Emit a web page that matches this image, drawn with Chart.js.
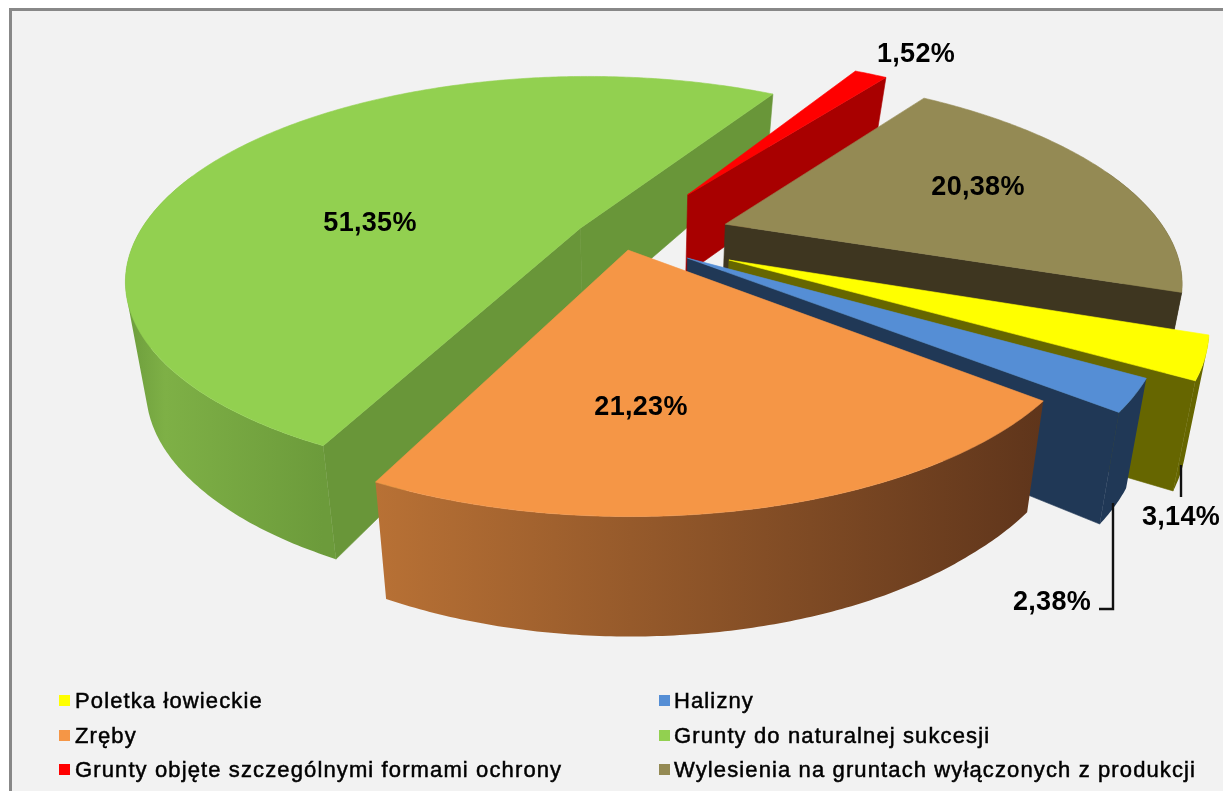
<!DOCTYPE html>
<html><head><meta charset="utf-8">
<script src="https://cdn.jsdelivr.net/npm/chart.js@4"></script>
<style>
html,body{margin:0;padding:0;background:#fff;width:1223px;height:791px;overflow:hidden}
#frame{position:absolute;left:9px;top:8px;width:1300px;height:900px;background:#f2f2f2;border:3px solid #888;box-sizing:border-box}
canvas{position:absolute;left:0;top:0}
</style></head><body><div id="frame"></div>
<canvas id="c" width="1223" height="791"></canvas>
<script>
const categories=['Poletka łowieckie','Halizny','Zręby','Grunty do naturalnej sukcesji','Grunty objęte szczególnymi formami ochrony','Wylesienia na gruntach wyłączonych z produkcji'];
const shares=[3.14,2.38,21.23,51.35,1.52,20.38];
const topColors=['#ffff00','#558ed5','#f59646','#92d050','#ff0000','#948a54'];
const wallColors=['#666600','#203856','#5f351b','#699639','#a80000','#3e3620'];
const rimStops=[[['0','#666600'],['1','#666600']],[['0','#203856'],['1','#203856']],
 [['0','#b87135'],['1','#5f351b']],[['0','#6c9c3c'],['.2','#7eb046'],['1','#6c9b3b']],
 [['0','#a80000'],['1','#a80000']],[['0','#3e3620'],['1','#3e3620']]];
const explode=[115,78,28,48,126,110];
const drawOrder=[3,4,5,0,1,2];
const PERSP=0.247, TILT=0.436, VX=640, VSHRINK=0.96;
const depthAtY=[[193,79],[290,108],[378,110],[440,113],[483,117],[517,120]];
function depth(y){
  if(y<=depthAtY[0][0])return depthAtY[0][1]-(depthAtY[0][0]-y)*.15;
  for(let i=1;i<depthAtY.length;i++){
    const [y0,h0]=depthAtY[i-1],[y1,h1]=depthAtY[i];
    if(y<=y1)return h0+(h1-h0)*(y-y0)/(y1-y0);
  }
  return depthAtY[depthAtY.length-1][1];
}
function project(arc,th,rho){
  const mid=(arc.startAngle+arc.endAngle)/2,o=arc.options.offset,r=arc.outerRadius;
  const X=rho*Math.cos(th)+o*Math.cos(mid),Y=rho*Math.sin(th)+o*Math.sin(mid);
  const w=1-PERSP*Y/r;
  return {x:arc.x+X/w,y:arc.y+TILT*Y/w};
}
function drop(p){return {x:VX+(p.x-VX)*VSHRINK,y:p.y+depth(p.y)};}
function poly(ctx,pts,fill){
  ctx.beginPath();pts.forEach((p,i)=>i?ctx.lineTo(p.x,p.y):ctx.moveTo(p.x,p.y));ctx.closePath();
  ctx.fillStyle=fill;ctx.strokeStyle=fill;ctx.lineWidth=.6;ctx.fill();ctx.stroke();
}
function area(q){let s=0;q.forEach((p,i)=>{const n=q[(i+1)%q.length];s+=p.x*n.y-n.x*p.y});return s;}
function drawSlice(ctx,arc,i){
  const a=arc.startAngle,b=arc.endAngle,r=arc.outerRadius,apex=project(arc,a,0);
  [[a,a-Math.PI/2],[b,b+Math.PI/2]].forEach(([t,n])=>{
    if(Math.sin(n)>0){
      const e=project(arc,t,r);
      poly(ctx,[apex,e,drop(e),drop(apex)],wallColors[i]);
    }
  });
  const arcPts=[];const n=Math.ceil((b-a)/0.01);
  for(let j=0;j<=n;j++)arcPts.push(a+(b-a)*j/n);
  const rim=arcPts.filter(t=>Math.sin(t)>-0.3).map(t=>project(arc,t,r));
  if(rim.length>1){
    const xs=rim.map(p=>p.x);
    const g=ctx.createLinearGradient(Math.min(...xs),0,Math.max(...xs),0);
    rimStops[i].forEach(s=>g.addColorStop(+s[0],s[1]));
    ctx.beginPath();
    for(let j=1;j<rim.length;j++){
      let q=[rim[j-1],rim[j],drop(rim[j]),drop(rim[j-1])];
      if(area(q)<0)q=q.reverse();
      q.forEach((p,k)=>k?ctx.lineTo(p.x,p.y):ctx.moveTo(p.x,p.y));
      ctx.closePath();
    }
    ctx.fillStyle=g;ctx.fill('nonzero');
  }
  poly(ctx,[apex].concat(arcPts.map(t=>project(arc,t,r))),topColors[i]);
}
const labelPos=[[1181,518],[1052,603],[641,408],[370,224],[916,55],[978,188]];
const leaders=[[[1181,465],[1181,497]],[[1113,503],[1113,609],[1099,609]]];
const legendCells=[[59,75],[659,674]],legendRows=[695,730,764];
const pie3d={id:'pie3d',
  beforeDatasetDraw(chart,args){
    const ctx=chart.ctx,arcs=args.meta.data;
    drawOrder.forEach(i=>drawSlice(ctx,arcs[i],i));
    return false;
  },
  afterDatasetsDraw(chart){
    const ctx=chart.ctx;ctx.save();
    ctx.fillStyle='#000';ctx.strokeStyle='#111';ctx.lineWidth=2.4;
    leaders.forEach(l=>{ctx.beginPath();l.forEach((p,i)=>i?ctx.lineTo(p[0],p[1]):ctx.moveTo(p[0],p[1]));ctx.stroke()});
    ctx.font='bold 27px "Liberation Sans"';ctx.textAlign='center';ctx.textBaseline='middle';
    ctx.letterSpacing='0.3px';
    shares.forEach((v,i)=>ctx.fillText(v.toFixed(2).replace('.',',')+'%',labelPos[i][0],labelPos[i][1]));
    ctx.textAlign='left';ctx.textBaseline='alphabetic';ctx.font='22px "Liberation Sans"';
    ctx.lineWidth=.5;ctx.strokeStyle='#000';
    categories.forEach((c,i)=>{
      const col=i%2,row=Math.floor(i/2),cell=legendCells[col],y=legendRows[row];
      ctx.fillStyle=topColors[i];ctx.fillRect(cell[0],y,11,11);
      ctx.fillStyle='#000';ctx.letterSpacing='1.12px';
      ctx.fillText(c,cell[1],y+13);ctx.strokeText(c,cell[1],y+13);
    });
    ctx.restore();
  }
};
new Chart(document.getElementById('c'),{
  type:'pie',
  data:{labels:categories,datasets:[{data:shares,backgroundColor:topColors,offset:explode,borderWidth:0}]},
  options:{responsive:false,animation:false,rotation:109.6,radius:444,
    layout:{padding:{left:21,bottom:315}},
    plugins:{legend:{display:false},tooltip:{enabled:false}}},
  plugins:[pie3d]
});
</script></body></html>
